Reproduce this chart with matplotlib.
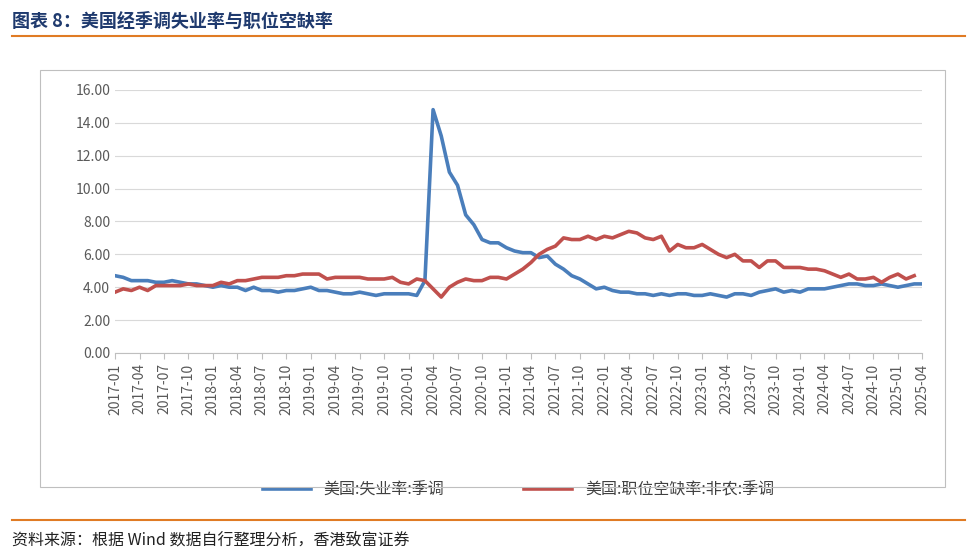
import matplotlib
matplotlib.use("Agg")
import matplotlib.pyplot as plt
from matplotlib.patches import Rectangle

plt.rcParams["font.family"] = ["Noto Sans CJK SC", "DejaVu Sans"]

months = [f"{y}-{m:02d}" for y in range(2017, 2026) for m in range(1, 13)][:100]

unemployment = [
    4.7, 4.6, 4.4, 4.4, 4.4, 4.3, 4.3, 4.4, 4.3, 4.2, 4.2, 4.1,
    4.0, 4.1, 4.0, 4.0, 3.8, 4.0, 3.8, 3.8, 3.7, 3.8, 3.8, 3.9,
    4.0, 3.8, 3.8, 3.7, 3.6, 3.6, 3.7, 3.6, 3.5, 3.6, 3.6, 3.6,
    3.6, 3.5, 4.4, 14.8, 13.2, 11.0, 10.2, 8.4, 7.8, 6.9, 6.7, 6.7,
    6.4, 6.2, 6.1, 6.1, 5.8, 5.9, 5.4, 5.1, 4.7, 4.5, 4.2, 3.9,
    4.0, 3.8, 3.7, 3.7, 3.6, 3.6, 3.5, 3.6, 3.5, 3.6, 3.6, 3.5,
    3.5, 3.6, 3.5, 3.4, 3.6, 3.6, 3.5, 3.7, 3.8, 3.9, 3.7, 3.8,
    3.7, 3.9, 3.9, 3.9, 4.0, 4.1, 4.2, 4.2, 4.1, 4.1, 4.2, 4.1,
    4.0, 4.1, 4.2, 4.2,
]
job_openings = [
    3.7, 3.9, 3.8, 4.0, 3.8, 4.1, 4.1, 4.1, 4.1, 4.2, 4.1, 4.1,
    4.1, 4.3, 4.2, 4.4, 4.4, 4.5, 4.6, 4.6, 4.6, 4.7, 4.7, 4.8,
    4.8, 4.8, 4.5, 4.6, 4.6, 4.6, 4.6, 4.5, 4.5, 4.5, 4.6, 4.3,
    4.2, 4.5, 4.4, 3.9, 3.4, 4.0, 4.3, 4.5, 4.4, 4.4, 4.6, 4.6,
    4.5, 4.8, 5.1, 5.5, 6.0, 6.3, 6.5, 7.0, 6.9, 6.9, 7.1, 6.9,
    7.1, 7.0, 7.2, 7.4, 7.3, 7.0, 6.9, 7.1, 6.2, 6.6, 6.4, 6.4,
    6.6, 6.3, 6.0, 5.8, 6.0, 5.6, 5.6, 5.2, 5.6, 5.6, 5.2, 5.2,
    5.2, 5.1, 5.1, 5.0, 4.8, 4.6, 4.8, 4.5, 4.5, 4.6, 4.3, 4.6,
    4.8, 4.5, 4.7, 4.5, 4.3,
][:99]

title = "图表 8：美国经季调失业率与职位空缺率"
source = "资料来源：根据 Wind 数据自行整理分析，香港致富证券"
label_u = "美国:失业率:季调"
label_j = "美国:职位空缺率:非农:季调"

fig = plt.figure(figsize=(9.75, 5.55), dpi=100)
fig.text(0.012, 0.962, title, fontsize=13, fontweight="bold", color="#1F3A6E", va="center")
fig.add_artist(plt.Line2D([0.012, 0.99], [0.935, 0.935], color="#E07B24", lw=1.5))
fig.add_artist(plt.Line2D([0.012, 0.99], [0.063, 0.063], color="#E07B24", lw=1.5))
fig.text(0.012, 0.027, source, fontsize=11.5, color="#222222", va="center")
fig.add_artist(Rectangle((0.041, 0.122), 0.928, 0.752, transform=fig.transFigure,
                         fill=False, edgecolor="#BFBFBF", lw=0.8))

ax = fig.add_axes([0.118, 0.364, 0.828, 0.474])
x = list(range(len(months)))
ax.plot(x, unemployment, color="#4A7EBB", lw=2.6, label=label_u)
ax.plot(x[:len(job_openings)], job_openings, color="#C0504D", lw=2.6, label=label_j)
ax.set_ylim(0, 16)
ax.set_yticks([i * 2 for i in range(9)])
ax.set_yticklabels([f"{i * 2:.2f}" for i in range(9)], fontsize=10, color="#595959")
ax.set_xlim(0, len(months) - 1)
ax.set_xticks(x[::3])
ax.set_xticklabels(months[::3], rotation=90, fontsize=10, color="#595959")
ax.grid(axis="y", color="#D9D9D9", lw=0.8)
ax.set_axisbelow(True)
for s in ["top", "right", "left"]:
    ax.spines[s].set_visible(False)
ax.spines["bottom"].set_color("#BFBFBF")
ax.tick_params(axis="y", length=0)
ax.tick_params(axis="x", color="#BFBFBF", length=4)
ax.legend(loc="center", bbox_to_anchor=(0.5, -0.52), ncol=2, frameon=False,
          fontsize=11.5, labelcolor="#404040", handlelength=3, columnspacing=5)

fig.savefig("out.png")
